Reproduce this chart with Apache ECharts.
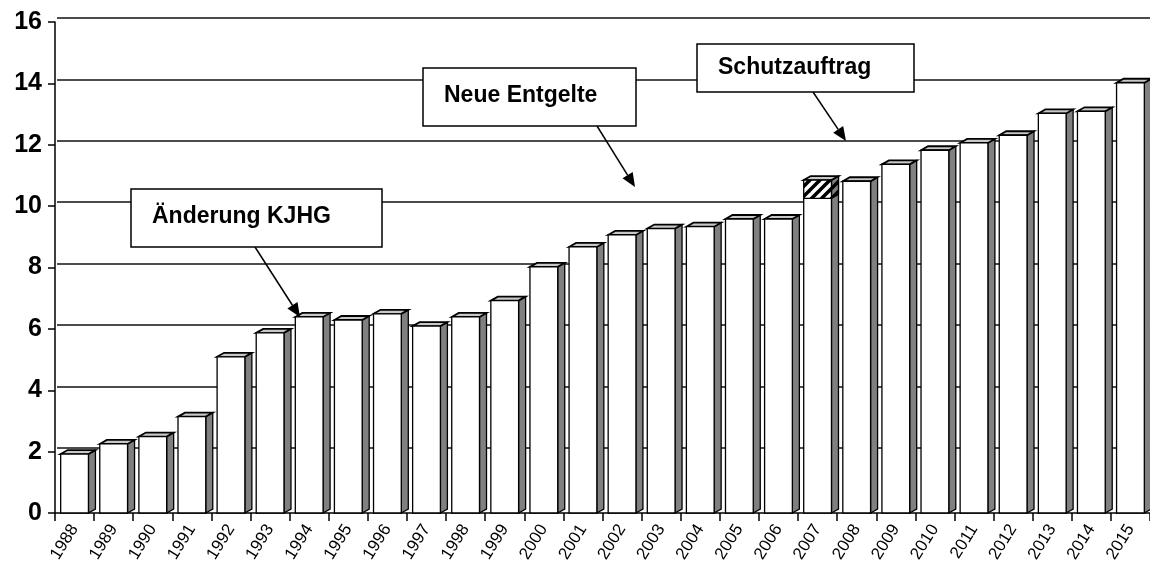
<!DOCTYPE html>
<html>
<head>
<meta charset="utf-8">
<script src="https://cdn.jsdelivr.net/npm/echarts@6/dist/echarts.min.js"></script>
<style>
html,body{margin:0;padding:0;background:#fff;}
#chart{width:1150px;height:575px;}
</style>
</head>
<body>
<div id="chart"></div>
<script>
const years = ['1988','1989','1990','1991','1992','1993','1994','1995','1996','1997','1998','1999','2000','2001','2002','2003','2004','2005','2006','2007','2008','2009','2010','2011','2012','2013','2014','2015'];
const values = [1.92,2.25,2.49,3.14,5.09,5.87,6.39,6.29,6.49,6.09,6.39,6.92,8.02,8.67,9.06,9.27,9.33,9.58,9.58,10.25,10.81,11.36,11.82,12.06,12.31,13.02,13.09,14.02];
const hatched = [0,0,0,0,0,0,0,0,0,0,0,0,0,0,0,0,0,0,0,0.6,0,0,0,0,0,0,0,0];
const yTicks = [0,2,4,6,8,10,12,14,16];
const notes = [
  {text:'Änderung KJHG', box:[131,189,251,58], ty:217, from:[255,247], to:[300,317]},
  {text:'Neue Entgelte', box:[423,68,213,58], ty:96, from:[597,126], to:[635,187]},
  {text:'Schutzauftrag', box:[697,44,217,48], ty:68, from:[813,92], to:[846,141]}
];

// hatch pattern
function makePattern(bg){
  const c = document.createElement('canvas');
  c.width = 10; c.height = 10;
  const x = c.getContext('2d');
  x.fillStyle = bg; x.fillRect(0,0,10,10);
  x.strokeStyle = '#000'; x.lineWidth = 3.5;
  [[-10,10,10,-10],[0,10,10,0],[0,20,20,0]].forEach(l=>{x.beginPath();x.moveTo(l[0],l[1]);x.lineTo(l[2],l[3]);x.stroke();});
  return c;
}
const pc = makePattern('#fff');
const pc2 = makePattern('#808080');

const DX = 7, DY = 4;
function renderBar(params, api){
  const i = api.value(0), v = api.value(1), h = api.value(2);
  const base = api.coord([i,0]);
  const top = api.coord([i,v]);
  const top2 = api.coord([i,v+h]);
  const bw = api.size([1,0])[0]*0.71;
  const x0 = base[0]-bw/2, x1 = base[0]+bw/2;
  const yb = base[1], yt = top[1], yt2 = top2[1];
  const stroke = {stroke:'#000', lineWidth:1.3};
  const ch = [];
  ch.push({type:'polygon', shape:{points:[[x1,yt2],[x1+DX,yt2-DY],[x1+DX,yb-DY],[x1,yb]]}, style:Object.assign({fill:'#808080'},stroke)});
  if (h>0){
    ch.push({type:'polygon', shape:{points:[[x1,yt2],[x1+DX,yt2-DY],[x1+DX,yt-DY],[x1,yt]]}, style:Object.assign({fill:{image:pc2,repeat:'repeat'}},stroke)});
  }
  ch.push({type:'polygon', shape:{points:[[x0,yt2],[x0+DX,yt2-DY],[x1+DX,yt2-DY],[x1,yt2]]}, style:{fill:'#c8c8c8', stroke:'#000', lineWidth:1.8}});
  ch.push({type:'rect', shape:{x:x0,y:yt,width:bw,height:yb-yt}, style:Object.assign({fill:'#fff'},stroke)});
  if (h>0){
    ch.push({type:'rect', shape:{x:x0,y:yt2,width:bw,height:yt-yt2}, style:Object.assign({fill:{image:pc,repeat:'repeat'}},stroke)});
  }
  return {type:'group', children:ch};
}

const graphics = [];
notes.forEach(n=>{
  const [x1,y1] = n.from, [x2,y2] = n.to;
  const a = Math.atan2(y2-y1,x2-x1), L=14, W=6;
  const bx = x2-L*Math.cos(a), by = y2-L*Math.sin(a);
  graphics.push({type:'line', z:100, shape:{x1,y1,x2:bx,y2:by}, style:{stroke:'#000',lineWidth:1.5}});
  graphics.push({type:'polygon', z:100, shape:{points:[[x2,y2],[bx+W*Math.sin(a),by-W*Math.cos(a)],[bx-W*Math.sin(a),by+W*Math.cos(a)]]}, style:{fill:'#000'}});
  graphics.push({type:'rect', z:100, shape:{x:n.box[0],y:n.box[1],width:n.box[2],height:n.box[3]}, style:{fill:'#fff',stroke:'#000',lineWidth:1.5}});
  graphics.push({type:'text', z:101, x:n.box[0]+21, y:n.ty, style:{text:n.text, font:'bold 23px "Liberation Sans", Arial, sans-serif', fill:'#000', align:'left', verticalAlign:'middle'}});
});

const chart = echarts.init(document.getElementById('chart'), null, {renderer:'canvas'});
chart.setOption({
  animation:false,
  backgroundColor:'#fff',
  grid:[
    {left:55, right:-3, top:22, bottom:62, containLabel:false},
    {left:57, right:-3, top:18, bottom:66, containLabel:false}
  ],
  xAxis:[
    {type:'category', gridIndex:0, data:years, boundaryGap:true,
     axisLine:{lineStyle:{color:'#000',width:1.5}},
     axisTick:{show:true, length:8, lineStyle:{color:'#000',width:1.5}},
     axisLabel:{interval:0, rotate:58, margin:13, color:'#000', fontSize:17, fontFamily:'"Liberation Sans", Arial, sans-serif'},
     splitLine:{show:false}},
    {type:'category', gridIndex:1, data:years, show:false}
  ],
  yAxis:[
    {type:'value', gridIndex:0, min:0, max:16, interval:2,
     axisLine:{show:true, lineStyle:{color:'#000',width:1.5}},
     axisTick:{show:true, length:7, lineStyle:{color:'#000',width:1.5}},
     axisLabel:{color:'#000', fontSize:25, fontWeight:'bold', margin:13, fontFamily:'"Liberation Sans", Arial, sans-serif',
       formatter:(v)=> yTicks.includes(v) ? String(v) : ''},
     splitLine:{show:false}},
    {type:'value', gridIndex:1, min:0, max:16, interval:2,
     axisLine:{show:false}, axisTick:{show:false}, axisLabel:{show:false},
     splitLine:{show:true, showMinLine:false, lineStyle:{color:'#111',width:1.5}}}
  ],
  series:[{
    type:'custom', xAxisIndex:0, yAxisIndex:0,
    renderItem:renderBar,
    data: years.map((y,i)=>[i, values[i], hatched[i]]),
    encode:{x:0, y:[1]},
    clip:false
  }],
  graphic:graphics
});
</script>
</body>
</html>
